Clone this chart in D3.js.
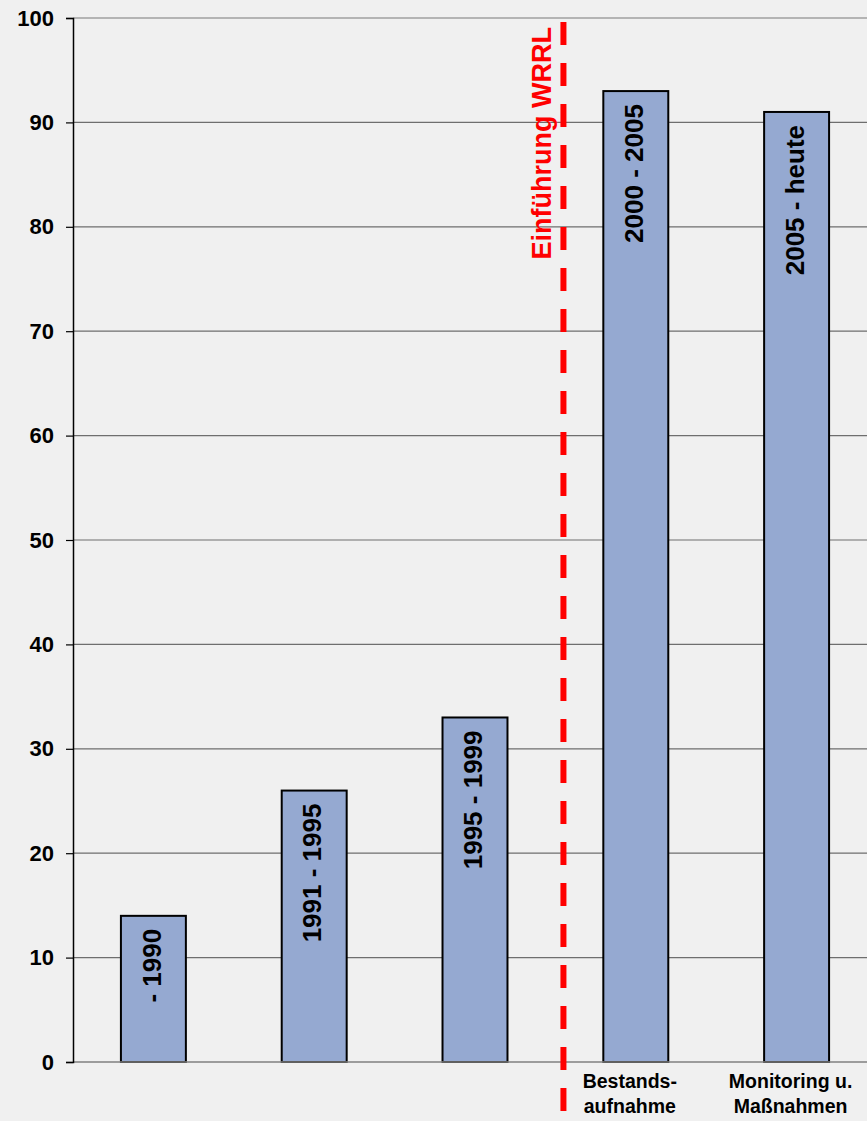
<!DOCTYPE html>
<html>
<head>
<meta charset="utf-8">
<script src="https://cdn.jsdelivr.net/npm/d3@7"></script>
<style>
  html, body { margin: 0; padding: 0; background: #f0f0f0; }
  svg { display: block; font-family: Arial, "Liberation Sans", sans-serif; }
</style>
</head>
<body>
<svg width="867" height="1121"></svg>
<script>
// chart data
const categories = ["c1", "c2", "c3", "c4", "c5"];
const values = [14, 26, 33, 93, 91];
const barLabels = ["- 1990", "1991 - 1995", "1995 - 1999", "2000 - 2005", "2005 - heute"];
const axisLabels = [[], [], [], ["Bestands-", "aufnahme"], ["Monitoring u.", "Maßnahmen"]];
const yTicks = [0, 10, 20, 30, 40, 50, 60, 70, 80, 90, 100];
const markerText = "Einführung WRRL";
const markerIndex = 3.05; // position of WRRL line, in bar-slot units

const width = 867, height = 1121;
const plotLeft = 73, plotRight = 877, plotTop = 18, plotBottom = 1062;

const svg = d3.select("svg");

const x = d3.scaleBand()
    .domain(categories)
    .range([plotLeft, plotRight])
    .paddingInner(0.596)
    .paddingOuter(0.298);

const slot = d3.scaleLinear().domain([0, categories.length]).range([plotLeft, plotRight]);

const y = d3.scaleLinear().domain([0, 100]).range([plotBottom, plotTop]);

// gridlines
svg.append("g")
  .selectAll("line")
  .data(yTicks.filter(d => d > 0))
  .join("line")
    .attr("x1", plotLeft)
    .attr("x2", width)
    .attr("y1", d => y(d))
    .attr("y2", d => y(d))
    .attr("stroke", d => d === 100 ? "#a0a0a0" : "#6e6e6e")
    .attr("stroke-width", d => d === 100 ? 1.5 : 1.2);

// bars
svg.append("g")
  .selectAll("rect")
  .data(values)
  .join("rect")
    .attr("x", (d, i) => x(categories[i]))
    .attr("y", d => y(d))
    .attr("width", x.bandwidth())
    .attr("height", d => y(0) - y(d))
    .attr("fill", "#95a9d1")
    .attr("stroke", "#000")
    .attr("stroke-width", 2);

// x axis line
svg.append("line")
    .attr("x1", plotLeft)
    .attr("x2", width)
    .attr("y1", y(0))
    .attr("y2", y(0))
    .attr("stroke", "#808080")
    .attr("stroke-width", 1.5);

// y axis
const yAxis = svg.append("g")
    .attr("transform", `translate(${plotLeft},0)`)
    .call(d3.axisLeft(y).tickValues(yTicks).tickSize(7).tickPadding(12));
yAxis.select(".domain").attr("stroke", "#000").attr("stroke-width", 1.5);
yAxis.selectAll(".tick line").attr("stroke", "#000").attr("stroke-width", 1.2);
yAxis.selectAll(".tick text")
    .attr("fill", "#000")
    .style("font-size", "22px")
    .style("font-weight", "bold")
    .style("font-family", "Arial, 'Liberation Sans', sans-serif");

// labels inside bars
svg.append("g")
  .selectAll("text")
  .data(values)
  .join("text")
    .attr("transform", (d, i) => `translate(${x(categories[i]) + x.bandwidth() / 2 - 2},${y(d) + 13}) rotate(-90)`)
    .attr("text-anchor", "end")
    .attr("dy", "0.35em")
    .style("font-size", "26px")
    .style("font-weight", "bold")
    .attr("fill", "#000")
    .text((d, i) => barLabels[i]);

// category labels below the axis
const cat = svg.append("g")
  .selectAll("text")
  .data(categories)
  .join("text")
    .attr("x", d => x(d) + x.bandwidth() / 2 - 6)
    .attr("y", 1088)
    .attr("text-anchor", "middle")
    .style("font-size", "19.5px")
    .style("font-weight", "bold")
    .attr("fill", "#000");
cat.selectAll("tspan")
  .data((d, i) => axisLabels[i])
  .join("tspan")
    .attr("x", function () { return this.parentNode.getAttribute("x"); })
    .attr("dy", (d, j) => j === 0 ? 0 : 25)
    .text(d => d);

// WRRL marker line
const mx = slot(markerIndex);
svg.append("line")
    .attr("x1", mx)
    .attr("x2", mx)
    .attr("y1", 22)
    .attr("y2", height)
    .attr("stroke", "#ff0000")
    .attr("stroke-width", 6)
    .attr("stroke-dasharray", "23,18");

svg.append("text")
    .attr("transform", `translate(${mx - 12},27) rotate(-90)`)
    .attr("text-anchor", "end")
    .style("font-size", "27px")
    .style("font-weight", "bold")
    .attr("fill", "#ff0000")
    .text(markerText);
</script>
</body>
</html>
